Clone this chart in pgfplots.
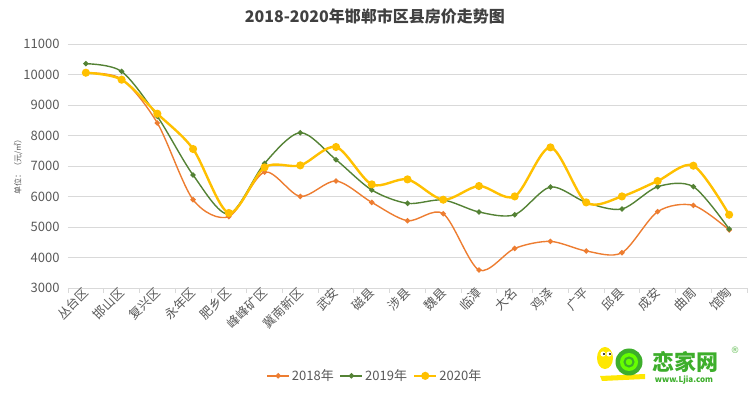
\documentclass[border=0pt]{standalone}
\usepackage{pgfplots}
\pgfplotsset{compat=1.18}
\usepackage{fontspec}
\setmainfont{Noto Sans CJK SC}
\newfontfamily\dejavu{DejaVu Sans}
\definecolor{c18}{HTML}{ED7D31}
\definecolor{c19}{HTML}{548235}
\definecolor{c20}{HTML}{FFC000}
\definecolor{txt}{HTML}{595959}
\definecolor{grid}{HTML}{D9D9D9}
\definecolor{logogreen}{HTML}{3DAE2B}
\begin{document}
\begin{tikzpicture}[x=1pt,y=1pt]
\useasboundingbox (0,0) rectangle (750,396);
\begin{axis}[
  at={(68pt,108pt)}, anchor=south west,
  scale only axis, width=679pt, height=244pt,
  xmin=-0.5, xmax=18.5, ymin=3000, ymax=11000,
  ytick={3000,4000,...,11000},
  scaled y ticks=false,
  xtick={0,...,18},
  xticklabels={丛台区,邯山区,复兴区,永年区,肥乡区,峰峰矿区,冀南新区,武安,磁县,涉县,魏县,临漳,大名,鸡泽,广平,邱县,成安,曲周,馆陶},
  minor xtick={-0.5,0.5,...,18.5},
  tick align=outside,
  major tick length=0pt, minor tick length=5pt,
  major x tick style={draw=none},
  minor x tick style={draw=grid, line width=0.8pt},
  ytick style={draw=none},
  axis x line*=bottom, axis y line*=left,
  x axis line style={draw=grid, line width=0.8pt, -},
  y axis line style={draw=none},
  ymajorgrids, grid style={draw=grid, line width=0.8pt},
  /pgf/number format/1000 sep={},
  /pgf/number format/assume math mode=true,
  yticklabel style={font=\fontsize{13}{15}\selectfont, text=txt, xshift=-5pt},
  xticklabel style={font=\fontsize{12.5}{14}\selectfont, text=txt, rotate=45, anchor=east, xshift=2pt, yshift=-2pt},
  ylabel={单位：（元/㎡）},
  every axis y label/.style={at={(axis description cs:-0.0736,0.504)}, rotate=90, anchor=center, font=\fontsize{8}{9}\selectfont, text=txt},
  title={2018-2020年邯郸市区县房价走势图},
  every axis title/.style={at={(axis description cs:0.452,1.111)}, anchor=center, font=\fontsize{16}{18}\selectfont\bfseries, text=black!75},
  legend columns=3,
  legend style={at={(axis description cs:0.452,-0.36)}, anchor=center, draw=none, font=\fontsize{13}{15}\selectfont, text=txt, /tikz/every even column/.append style={column sep=4pt}},
  legend image code/.code={\draw[mark repeat=2,mark phase=2,#1] plot coordinates {(0pt,0pt) (11pt,0pt) (22pt,0pt)};},
  clip=false,
]
\addplot[c18, line width=1.4pt, smooth, tension=0.5, mark=*, mark size=1.9pt] coordinates {
(0,10050) (1,9850) (2,8410) (3,5895) (4,5340) (5,6800) (6,6003) (7,6508) (8,5807) (9,5207)
(10,5436) (11,3590) (12,4298) (13,4528) (14,4213) (15,4157) (16,5502) (17,5708) (18,4902)};
\addlegendentry{2018年}
\addplot[c19, line width=1.4pt, smooth, tension=0.5, mark=*, mark size=1.9pt] coordinates {
(0,10354) (1,10100) (2,8626) (3,6705) (4,5426) (5,7085) (6,8092) (7,7206) (8,6213) (9,5775)
(10,5885) (11,5492) (12,5403) (13,6311) (14,5807) (15,5590) (16,6321) (17,6321) (18,4934)};
\addlegendentry{2019年}
\addplot[c20, line width=2.4pt, smooth, tension=0.5, mark=*, mark size=2.8pt] coordinates {
(0,10059) (1,9830) (2,8715) (3,7557) (4,5459) (5,6955) (6,7020) (7,7623) (8,6397) (9,6561)
(10,5895) (11,6344) (12,6003) (13,7610) (14,5807) (15,6003) (16,6508) (17,7010) (18,5403)};
\addlegendentry{2020年}
\end{axis}
% logo
\fill[yellow!90!orange] (600,20) -- (645,22) -- (645,17) -- (602,15) -- cycle;
\fill[logogreen] (629,34) circle (13.5);
\fill[green!60!yellow] (629,34) circle (9);
\draw[logogreen, line width=2pt] (629,34) circle (4.5);
\fill[yellow!90!orange] (605,38) ellipse (8 and 11);
\fill[white] (603,42) circle (2.6); \fill[white] (609,42) circle (2.6);
\fill[black] (604,42) circle (1.2); \fill[black] (610,42) circle (1.2);
\node[anchor=center, text=logogreen, font=\fontsize{22}{24}\selectfont\bfseries] at (685,34) {恋家网};
\node[anchor=center, text=logogreen, font=\fontsize{8}{9}\selectfont\bfseries] at (684,16) {www.Ljia.com};
\node[anchor=center, text=logogreen!80, font=\dejavu\fontsize{9}{10}\selectfont] at (735,46) {®};
\end{tikzpicture}
\end{document}
